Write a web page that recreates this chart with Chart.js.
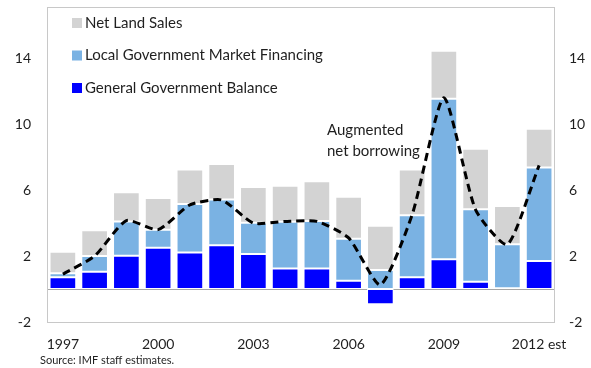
<!DOCTYPE html>
<html>
<head>
<meta charset="utf-8">
<script src="https://cdn.jsdelivr.net/npm/chart.js@4"></script>
<style>
  html, body { margin: 0; padding: 0; background: #fff; }
  #wrap { width: 591px; height: 368px; position: relative; }
</style>
</head>
<body>
<div id="wrap"><canvas id="myChart"></canvas></div>
<script>
// years on the category axis, only every third one gets a label
var years = ["1997", "1998", "1999", "2000", "2001", "2002", "2003", "2004", "2005",
    "2006", "2007", "2008", "2009", "2010", "2011", "2012 est"];

// percent of GDP
var govBalance = [0.71, 1.05, 2.02, 2.5, 2.22, 2.65, 2.12, 1.25, 1.25, 0.5, -0.93, 0.71, 1.8, 0.44, 0.05, 1.7];
var localFinancing = [0.24, 0.95, 2.08, 1.1, 2.93, 2.78, 1.9, 2.83, 2.87, 2.55, 1.15, 3.77, 9.74, 4.39, 2.66, 5.67];
var landSales = [1.31, 1.56, 1.76, 1.92, 2.1, 2.15, 2.16, 2.18, 2.41, 2.55, 2.69, 2.77, 2.9, 3.67, 2.33, 2.35];
var augmentedBorrowing = [0.9, 2.0, 4.15, 3.6, 5.1, 5.4, 4.0, 4.1, 4.1, 3.1, 0.25, 4.5, 11.6, 4.8, 2.7, 7.5];

var yTicks = [-2, 2, 6, 10, 14];
var shownYears = ["1997", "2000", "2003", "2006", "2009", "2012 est"];

var font = "Lato, 'DejaVu Sans', sans-serif";
var textColor = "#1f1f1f";

// keep the plot box fixed: no extra room for tick labels at the ends
function fixY(width) {
    return function (s) {
        s.width = width;
        s.paddingTop = 0;
        s.paddingBottom = 0;
    };
}

// frame, zero line, legend, note and source
var extras = {
    id: "extras",
    beforeDatasetsDraw: function (chart) {
        var ctx = chart.ctx, a = chart.chartArea;
        var y0 = Math.round(chart.scales.y.getPixelForValue(0)) + 0.5;
        ctx.save();
        ctx.strokeStyle = "#a6a6a6";
        ctx.lineWidth = 1;
        ctx.beginPath();
        ctx.moveTo(a.left, y0);
        ctx.lineTo(a.right, y0);
        ctx.stroke();
        ctx.restore();
    },
    afterDraw: function (chart) {
        var ctx = chart.ctx, a = chart.chartArea;
        ctx.save();
        ctx.strokeStyle = "#c8c8c8";
        ctx.lineWidth = 1;
        ctx.strokeRect(Math.round(a.left) + 0.5, Math.round(a.top) + 0.5,
            Math.round(a.right - a.left) - 1, Math.round(a.bottom - a.top));

        // legend, top entry first
        var items = [chart.data.datasets[2], chart.data.datasets[1], chart.data.datasets[0]];
        ctx.font = "15px " + font;
        ctx.textBaseline = "middle";
        ctx.textAlign = "left";
        items.forEach(function (ds, i) {
            var y = 23 + i * 32.5;
            ctx.fillStyle = ds.backgroundColor;
            ctx.fillRect(72, y - 5, 10, 10);
            ctx.fillStyle = textColor;
            ctx.fillText(ds.label, 85, y);
        });

        ctx.fillText("Augmented", 327, 130);
        ctx.fillText("net borrowing", 327, 151);

        ctx.font = "11px " + font;
        ctx.fillText("Source: IMF staff estimates.", 40, 360);
        ctx.restore();
    }
};

var canvas = document.getElementById("myChart").getContext("2d");
window.bar = new Chart(canvas, {
    type: "bar",
    data: {
        labels: years,
        datasets: [{
                label: "General Government Balance",
                backgroundColor: "#0000ff",
                data: govBalance,
                order: 2
            },
            {
                label: "Local Government Market Financing",
                backgroundColor: "#7ab2e3",
                data: localFinancing,
                order: 2
            },
            {
                label: "Net Land Sales",
                backgroundColor: "#d3d3d3",
                data: landSales,
                order: 2
            },
            {
                type: "line",
                label: "Augmented net borrowing",
                data: augmentedBorrowing,
                yAxisID: "yR",
                borderColor: "#000",
                borderWidth: 3,
                borderDash: [8, 5],
                pointRadius: 0,
                tension: 0.2,
                fill: false,
                order: 1
            }
        ]
    },
    options: {
        responsive: true,
        maintainAspectRatio: false,
        animation: false,
        layout: { padding: { top: 7, left: 0, right: 0, bottom: 0 } },
        datasets: {
            bar: {
                barPercentage: 0.84,
                categoryPercentage: 1,
                borderWidth: 1,
                borderColor: "#ffffff",
                borderSkipped: false
            }
        },
        plugins: {
            legend: { display: false },
            tooltip: { enabled: false }
        },
        scales: {
            x: {
                stacked: true,
                grid: { display: false, drawTicks: false },
                border: { display: false },
                ticks: {
                    autoSkip: false,
                    maxRotation: 0,
                    padding: 14,
                    color: textColor,
                    font: { family: font, size: 14 },
                    callback: function (v, i) {
                        var l = years[i];
                        return shownYears.indexOf(l) >= 0 ? l : "";
                    }
                },
                afterFit: function (s) {
                    s.height = 46;
                    s.paddingLeft = 0;
                    s.paddingRight = 0;
                }
            },
            y: {
                stacked: true,
                position: "left",
                bounds: "data",
                min: -2,
                max: 17.1,
                grid: { display: false, drawTicks: false },
                border: { display: false },
                ticks: { padding: 16, color: textColor, font: { family: font, size: 14 } },
                afterBuildTicks: function (s) { s.ticks = yTicks.map(function (v) { return { value: v }; }); },
                afterFit: fixY(47)
            },
            yR: {
                position: "right",
                bounds: "data",
                min: -2,
                max: 17.1,
                grid: { display: false, drawTicks: false },
                border: { display: false },
                ticks: { padding: 14, color: textColor, font: { family: font, size: 14 } },
                afterBuildTicks: function (s) { s.ticks = yTicks.map(function (v) { return { value: v }; }); },
                afterFit: fixY(36)
            }
        }
    },
    plugins: [extras]
});
</script>
</body>
</html>
